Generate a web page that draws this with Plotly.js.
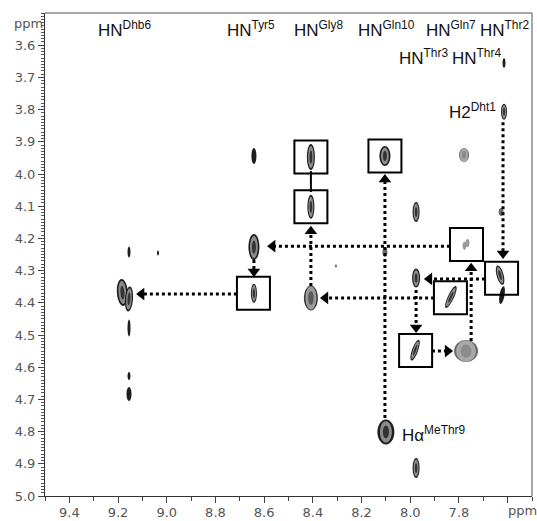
<!DOCTYPE html>
<html><head><meta charset="utf-8">
<script src="https://cdn.plot.ly/plotly-3.0.1.min.js"></script>
<style>html,body{margin:0;padding:0;background:#fff}#chart{width:537px;height:521px}</style>
</head><body><div id="chart"></div>
<script>
// ---------- DATA (ppm) ----------
// cross peaks: F2 (x, HN) and F1 (y) chemical shifts
const peakX = [8.642, 8.408, 8.104, 7.779, 7.615, 7.615, 8.408, 7.976, 7.627, 7.777, 7.765, 8.104, 8.642, 8.642, 9.182, 9.155, 9.155, 9.036, 9.155, 9.155, 9.155, 8.305, 7.631, 7.623, 7.976, 7.833, 8.408, 7.980, 7.771, 8.100, 7.976];
const peakY = [3.944, 3.947, 3.944, 3.941, 3.807, 3.655, 4.102, 4.118, 4.118, 4.223, 4.214, 4.242, 4.227, 4.370, 4.368, 4.388, 4.242, 4.245, 4.478, 4.627, 4.683, 4.286, 4.314, 4.376, 4.323, 4.382, 4.385, 4.547, 4.550, 4.801, 4.913];
// boxed sequential-walk peaks
const boxX = [8.408, 8.104, 8.408, 7.769, 7.625, 7.835, 7.978, 8.644];
const boxY = [3.947, 3.944, 4.102, 4.219, 4.324, 4.384, 4.548, 4.370];
// dotted arrows (from -> to)
const arrowFromX = [8.104, 8.408, 7.837, 7.619, 7.693, 7.750, 7.902, 7.976, 7.911, 8.642, 8.712];
const arrowFromY = [4.758, 4.348, 4.224, 3.839, 4.326, 4.519, 4.385, 4.360, 4.550, 4.267, 4.373];
const arrowToX   = [8.104, 8.408, 8.588, 7.619, 7.944, 7.750, 8.371, 7.976, 7.824, 8.642, 9.126];
const arrowToY   = [4.000, 4.161, 4.224, 4.264, 4.326, 4.276, 4.385, 4.494, 4.550, 4.320, 4.373];
// solid connector
const linkX = [8.408, 8.408];
const linkY = [3.991, 4.056];
// assignment labels
const labelText = ['HN<sup>Dhb6</sup>', 'HN<sup>Tyr5</sup>', 'HN<sup>Gly8</sup>', 'HN<sup>Gln10</sup>', 'HN<sup>Gln7</sup>', 'HN<sup>Thr2</sup>', 'HN<sup>Thr3</sup>', 'HN<sup>Thr4</sup>', 'H2<sup>Dht1</sup>', 'Hα<sup>MeThr9</sup>'];
const labelX = [9.286, 8.757, 8.482, 8.219, 7.939, 7.718, 8.050, 7.833, 7.845, 8.038];
const labelY = [3.5745, 3.5745, 3.5745, 3.5745, 3.5745, 3.5745, 3.6615, 3.6615, 3.829, 4.832];
// axis ticks
const xTickVals = [9.4, 9.2, 9.0, 8.8, 8.6, 8.4, 8.2, 8.0, 7.8, 7.6];
const xTickText = ['9.4', '9.2', '9.0', '8.8', '8.6', '8.4', '8.2', '8.0', '7.8', ''];
const yTickVals = [3.6, 3.7, 3.8, 3.9, 4.0, 4.1, 4.2, 4.3, 4.4, 4.5, 4.6, 4.7, 4.8, 4.9, 5.0];
const yTickText = ['3.6', '3.7', '3.8', '3.9', '4.0', '4.1', '4.2', '4.3', '4.4', '4.5', '4.6', '4.7', '4.8', '4.9', '5.0'];

// ---------- STYLE ----------
const peakW = [5, 8, 11, 10, 6, 3, 7, 7, 5, 4, 4, 5, 11, 6, 11, 8, 3, 2, 3, 3, 5, 2, 7, 5, 8, 6, 14, 6, 24, 17, 7];
const peakH = [16, 26, 20, 14, 16, 10, 24, 20, 8, 8, 8, 10, 26, 19, 27, 25, 11, 5, 17, 8, 14, 3, 20, 18, 19, 24, 25, 22, 22, 25, 20];
const peakAngle = [0, 0, 0, 0, 0, 0, 0, 0, 0, 0, 0, 0, 0, 0, -4, 4, 0, 0, 0, 0, 0, 0, -15, 10, 0, 25, 0, 20, 0, 0, 0];
const peakTone = ['d','d','d','g','d','d','d','d','g','l','l','g','d','d','d','d','d','d','d','d','d','g','d','d','d','d','m','d','g','d','d'];
const tones = {
  d: [[1, '#1e1e1e'], [0.7, '#8c8c8c'], [0.36, '#333333']],
  m: [[1, '#3a3a3a'], [0.78, '#9a9a9a'], [0.4, '#5a5a5a']],
  g: [[1, '#6a6a6a'], [0.82, '#a9a9a9'], [0.45, '#8c8c8c']],
  l: [[1, '#9a9a9a'], [0.6, '#c4c4c4']]
};

const W = 537, H = 521, M = {l: 45, r: 5, t: 13, b: 25, pad: 0};
const xRange = [9.5, 7.5], yRange = [5.0, 3.5];
const pxX = (W - M.l - M.r) / (xRange[0] - xRange[1]);
const pxY = (H - M.t - M.b) / (yRange[0] - yRange[1]);

function ellipsePath(cx, cy, w, h, ang) {
  const a = w / 2, b = h / 2, k = 0.5523, t = ang * Math.PI / 180;
  const c = Math.cos(t), s = Math.sin(t);
  const P = ([x, y]) => {
    const dx = x * c - y * s, dy = x * s + y * c;
    return (cx - dx / pxX).toFixed(5) + ',' + (cy + dy / pxY).toFixed(5);
  };
  const pts = [
    [a, 0],
    [a, k * b], [k * a, b], [0, b],
    [-k * a, b], [-a, k * b], [-a, 0],
    [-a, -k * b], [-k * a, -b], [0, -b],
    [k * a, -b], [a, -k * b], [a, 0]
  ];
  let d = 'M' + P(pts[0]);
  for (let i = 1; i < pts.length; i += 3) {
    d += ' C' + P(pts[i]) + ' ' + P(pts[i + 1]) + ' ' + P(pts[i + 2]);
  }
  return d + ' Z';
}

const shapes = [];
// frame (top/right lighter)
shapes.push({type: 'line', xref: 'paper', yref: 'paper', x0: 0, x1: 1, y0: 1, y1: 1, line: {color: '#8a8a8a', width: 1.5}});
shapes.push({type: 'line', xref: 'paper', yref: 'paper', x0: 1, x1: 1, y0: 0, y1: 1, line: {color: '#8a8a8a', width: 1.5}});

// peaks
for (let i = 0; i < peakX.length; i++) {
  let layers = tones[peakTone[i]];
  if (Math.min(peakW[i], peakH[i]) <= 5) layers = layers.slice(0, 1);
  layers.forEach(([f, col]) => {
    shapes.push({type: 'path', xref: 'x', yref: 'y',
      path: ellipsePath(peakX[i], peakY[i], peakW[i] * f, peakH[i] * (f === 1 ? 1 : Math.min(1, f + 0.15)), peakAngle[i]),
      fillcolor: col, line: {width: 0}});
  });
}
// boxes
const boxPx = 33;
for (let i = 0; i < boxX.length; i++) {
  shapes.push({type: 'rect', xref: 'x', yref: 'y',
    x0: boxX[i] + boxPx / 2 / pxX, x1: boxX[i] - boxPx / 2 / pxX,
    y0: boxY[i] - boxPx / 2 / pxY, y1: boxY[i] + boxPx / 2 / pxY,
    line: {color: '#000', width: 2}, fillcolor: 'rgba(0,0,0,0)'});
}
// solid link
shapes.push({type: 'line', xref: 'x', yref: 'y', x0: linkX[0], x1: linkX[1], y0: linkY[0], y1: linkY[1], line: {color: '#000', width: 2}});

// arrows
const headSize = 11, r = headSize / 2;
const headX = [], headY = [], headSym = [];
for (let i = 0; i < arrowFromX.length; i++) {
  const dxp = -(arrowToX[i] - arrowFromX[i]) * pxX; // screen px, +right
  const dyp = (arrowToY[i] - arrowFromY[i]) * pxY;  // screen px, +down
  let sym, ox = 0, oy = 0;
  if (Math.abs(dxp) > Math.abs(dyp)) {
    if (dxp > 0) { sym = 'triangle-right'; ox = -r; } else { sym = 'triangle-left'; ox = r; }
  } else {
    if (dyp > 0) { sym = 'triangle-down'; oy = -r; } else { sym = 'triangle-up'; oy = r; }
  }
  const hx = arrowToX[i] - ox / pxX, hy = arrowToY[i] + oy / pxY;
  headX.push(hx); headY.push(hy); headSym.push(sym);
  shapes.push({type: 'line', xref: 'x', yref: 'y', x0: arrowFromX[i], y0: arrowFromY[i], x1: hx, y1: hy,
    line: {color: '#000', width: 3, dash: 'dot'}});
}

const traces = [{
  type: 'scatter', mode: 'markers', x: headX, y: headY, hoverinfo: 'skip',
  marker: {symbol: headSym, size: headSize, color: '#000', line: {width: 0}}, showlegend: false
}];

const labelFont = {family: 'Liberation Sans, Arial, sans-serif', size: 17, color: '#111'};
const annotations = labelText.map((t, i) => ({
  text: t, x: labelX[i], y: labelY[i], xref: 'x', yref: 'y', showarrow: false,
  xanchor: 'left', yanchor: 'bottom', yshift: -4, borderpad: 0, font: labelFont
}));
const tickFont = {family: 'DejaVu Sans, sans-serif', size: 13, color: '#555'};
annotations.push({text: 'ppm', xref: 'paper', yref: 'y', x: 0, y: 3.532, xanchor: 'right', yanchor: 'middle', xshift: -1, showarrow: false, borderpad: 0, font: tickFont});
annotations.push({text: 'ppm', xref: 'x', yref: 'paper', x: 7.6, y: 0, xanchor: 'left', yanchor: 'top', yshift: -6, xshift: -1, showarrow: false, borderpad: 0, font: tickFont});

const layout = {
  width: W, height: H, margin: M, paper_bgcolor: '#fff', plot_bgcolor: '#fff',
  showlegend: false,
  xaxis: {range: xRange, tickmode: 'array', tickvals: xTickVals, ticktext: xTickText,
    ticks: 'outside', ticklen: 6, tickcolor: '#444', tickwidth: 1, ticklabelstandoff: -2,
    minor: {tickmode: 'linear', tick0: 9.5, dtick: 0.2, ticks: 'outside', ticklen: 4, tickcolor: '#444'},
    showgrid: false, zeroline: false, showline: true, linecolor: '#333', linewidth: 1, tickfont: tickFont, fixedrange: true},
  yaxis: {range: yRange, tickmode: 'array', tickvals: yTickVals, ticktext: yTickText,
    ticks: 'outside', ticklen: 6, tickcolor: '#444', tickwidth: 1,
    minor: {tickmode: 'linear', tick0: 3.5, dtick: 0.01, ticks: 'outside', ticklen: 3, tickcolor: '#555'},
    showgrid: false, zeroline: false, showline: true, linecolor: '#333', linewidth: 1, tickfont: tickFont, fixedrange: true},
  shapes: shapes, annotations: annotations
};
Plotly.newPlot('chart', traces, layout, {displayModeBar: false, staticPlot: true});
</script></body></html>
